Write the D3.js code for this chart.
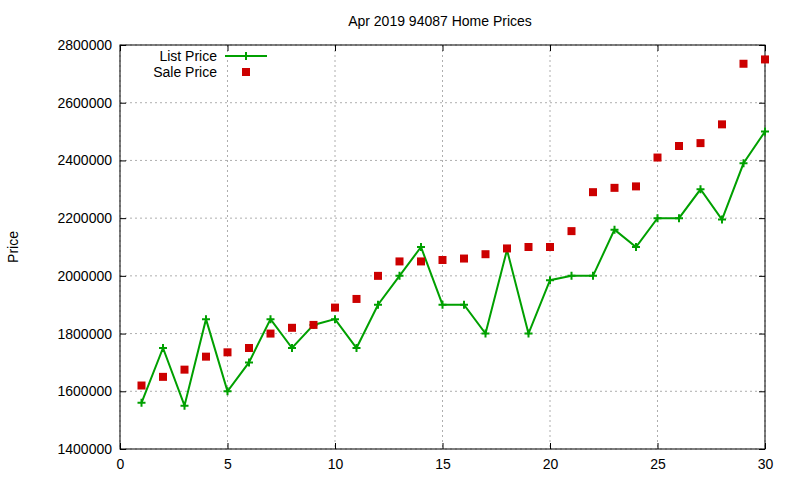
<!DOCTYPE html><html><head><meta charset="utf-8"><script src="https://cdn.jsdelivr.net/npm/d3@7"></script>
<style>body{margin:0;background:#fff}text{font-family:"Liberation Sans",Arial,sans-serif;font-size:14px}</style></head><body>
<svg id="c" width="800" height="480"></svg>
<script>
const days=d3.range(1,31);
const listPrice=[1560000,1750000,1550000,1850000,1600000,1700000,1850000,1750000,1830000,1850000,1750000,1900000,2000000,2100000,1900000,1900000,1800000,2090000,1800000,1985000,2000000,2000000,2160000,2100000,2200000,2200000,2300000,2195000,2390000,2500000];
const salePrice=[1620000,1650000,1675000,1720000,1735000,1750000,1800000,1820000,1830000,1890000,1920000,2000000,2050000,2050000,2055000,2060000,2075000,2095000,2100000,2100000,2155000,2290000,2305000,2310000,2410000,2450000,2460000,2525000,2735000,2750000];
const xTicks=[0,5,10,15,20,25,30];
const yTicks=[1400000,1600000,1800000,2000000,2200000,2400000,2600000,2800000];
const svg=d3.select("#c");
const L=120,R=765,T=45,B=449;
const x=d3.scaleLinear().domain([0,30]).range([L,R]);
const y=d3.scaleLinear().domain([1400000,2800000]).range([B,T]);
const g=svg.append("g");
xTicks.forEach(t=>{g.append("line").attr("x1",x(t)).attr("x2",x(t)).attr("y1",T).attr("y2",B).attr("stroke","#999").attr("stroke-dasharray","2,3").attr("stroke-width",0.8);});
yTicks.forEach(t=>{g.append("line").attr("y1",y(t)).attr("y2",y(t)).attr("x1",L).attr("x2",R).attr("stroke","#999").attr("stroke-dasharray","2,3").attr("stroke-width",0.8);});
const xa=svg.append("g").attr("transform",`translate(0,${B})`).call(d3.axisBottom(x).tickValues(xTicks).tickSize(-6).tickPadding(10));
const xt=svg.append("g").attr("transform",`translate(0,${T})`).call(d3.axisTop(x).tickValues(xTicks).tickSize(-6).tickFormat(""));
const ya=svg.append("g").attr("transform",`translate(${L},0)`).call(d3.axisLeft(y).tickValues(yTicks).tickSize(-6).tickPadding(8).tickFormat(d3.format("d")));
const yr=svg.append("g").attr("transform",`translate(${R},0)`).call(d3.axisRight(y).tickValues(yTicks).tickSize(-6).tickFormat(""));
[xa,xt,ya,yr].forEach(a=>{a.select(".domain").remove();a.selectAll("text").attr("fill","#000").style("font-size","14px");a.selectAll("line").attr("stroke","#000");});
svg.append("rect").attr("x",L).attr("y",T).attr("width",R-L).attr("height",B-T).attr("fill","none").attr("stroke","#000");
svg.append("text").attr("x",440).attr("y",26).attr("text-anchor","middle").text("Apr 2019 94087 Home Prices");
svg.append("text").attr("transform","translate(18,247) rotate(-90)").attr("text-anchor","middle").text("Price");
const green="#00a000",red="#cc0000";
svg.append("path").datum(days).attr("fill","none").attr("stroke",green).attr("stroke-width",2)
 .attr("d",d3.line().x(d=>x(d)).y((d,i)=>y(listPrice[i])));
const plus=(sx,sy)=>{svg.append("path").attr("d",`M${sx-4},${sy}H${sx+4}M${sx},${sy-4}V${sy+4}`).attr("stroke",green).attr("stroke-width",2);};
days.forEach((d,i)=>plus(x(d),y(listPrice[i])));
svg.selectAll(".s").data(days).enter().append("rect").attr("x",d=>x(d)-4).attr("y",(d,i)=>y(salePrice[i])-4).attr("width",8).attr("height",8).attr("fill",red);
svg.append("text").attr("x",217).attr("y",61).attr("text-anchor","end").text("List Price");
svg.append("line").attr("x1",225).attr("x2",267).attr("y1",56).attr("y2",56).attr("stroke",green).attr("stroke-width",2);
plus(246,56);
svg.append("text").attr("x",217).attr("y",77).attr("text-anchor","end").text("Sale Price");
svg.append("rect").attr("x",242).attr("y",68).attr("width",8).attr("height",8).attr("fill",red);
</script></body></html>
